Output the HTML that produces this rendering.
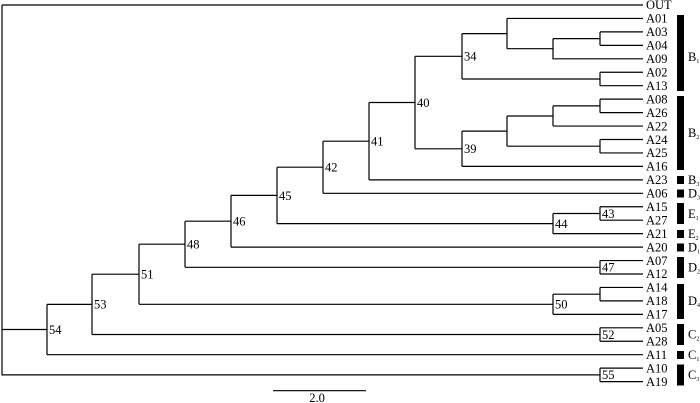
<!DOCTYPE html>
<html><head><meta charset="utf-8"><style>html,body{margin:0;padding:0;background:#fff}svg{display:block}</style></head><body>
<svg width="700" height="403" xmlns="http://www.w3.org/2000/svg" font-family="Liberation Serif, serif" font-size="12.5">
<g stroke="#000" stroke-width="1.2" fill="none">
<path d="M2,5H643 M2,5V374.9H600"/>
<path d="M600,31.9V45.35 M600,31.9H643 M600,45.35H643"/>
<path d="M553,38.6H600 M553,38.6V58.8H643"/>
<path d="M507,18.45V48.7 M507,18.45H643 M507,48.7H553"/>
<path d="M600,72.25V85.7 M600,72.25H643 M600,85.7H643"/>
<path d="M462,33.6V79 M462,33.6H507 M462,79H600"/>
<path d="M600,99.15V112.6 M600,99.15H643 M600,112.6H643"/>
<path d="M553,105.9V126.05 M553,105.9H600 M553,126.05H643"/>
<path d="M600,139.5V152.95 M600,139.5H643 M600,152.95H643"/>
<path d="M507,116V146.2 M507,116H553 M507,146.2H600"/>
<path d="M462,131.1V166.4 M462,131.1H507 M462,166.4H643"/>
<path d="M415,56.3V148.8 M415,56.3H462 M415,148.8H462"/>
<path d="M369,102.5V179.85 M369,102.5H415 M369,179.85H643"/>
<path d="M323,141.2V193.3 M323,141.2H369 M323,193.3H643"/>
<path d="M600,206.75V220.2 M600,206.75H643 M600,220.2H643"/>
<path d="M553,213.5V233.65 M553,213.5H600 M553,233.65H643"/>
<path d="M277,167.2V223.6 M277,167.2H323 M277,223.6H553"/>
<path d="M231,195.4V247.1 M231,195.4H277 M231,247.1H643"/>
<path d="M600,260.55V274 M600,260.55H643 M600,274H643"/>
<path d="M185,221.2V267.3 M185,221.2H231 M185,267.3H600"/>
<path d="M600,287.45V300.9 M600,287.45H643 M600,300.9H643"/>
<path d="M553,294.2V314.35 M553,294.2H600 M553,314.35H643"/>
<path d="M139,244.2V304.3 M139,244.2H185 M139,304.3H553"/>
<path d="M600,327.8V341.25 M600,327.8H643 M600,341.25H643"/>
<path d="M92,274.2V334.5 M92,274.2H139 M92,334.5H600"/>
<path d="M47,304.4V354.7 M47,304.4H92 M47,354.7H643"/>
<path d="M2,329.5H47"/>
<path d="M600,368.15V381.6 M600,368.15H643 M600,381.6H643"/>
<path d="M273,390.7H366"/>
</g>
<g fill="#000">
<text x="464" y="60.5">34</text><text x="464" y="153">39</text>
<text x="417" y="107">40</text><text x="371" y="145.5">41</text>
<text x="325" y="171.5">42</text><text x="602" y="218">43</text>
<text x="555" y="228">44</text><text x="279" y="200">45</text>
<text x="233" y="225.5">46</text><text x="602" y="271.5">47</text>
<text x="187" y="248.5">48</text><text x="555" y="308.5">50</text>
<text x="141" y="278.5">51</text><text x="602" y="339">52</text>
<text x="94" y="308.5">53</text><text x="49" y="334">54</text>
<text x="602" y="379">55</text>
<text x="317" y="402" text-anchor="middle">2.0</text>
</g>
<g fill="#000" font-size="12.5">
<text x="646" y="9">OUT</text>
<text x="646" y="22.5">A01</text><text x="646" y="36">A03</text><text x="646" y="49.5">A04</text>
<text x="646" y="63">A09</text><text x="646" y="76.5">A02</text><text x="646" y="90">A13</text>
<text x="646" y="103.5">A08</text><text x="646" y="117">A26</text><text x="646" y="130.5">A22</text>
<text x="646" y="144">A24</text><text x="646" y="157">A25</text><text x="646" y="170.5">A16</text>
<text x="646" y="184">A23</text><text x="646" y="197.5">A06</text><text x="646" y="211">A15</text>
<text x="646" y="224.5">A27</text><text x="646" y="238">A21</text><text x="646" y="251.5">A20</text>
<text x="646" y="265">A07</text><text x="646" y="278">A12</text><text x="646" y="291.5">A14</text>
<text x="646" y="305">A18</text><text x="646" y="318.5">A17</text><text x="646" y="332">A05</text>
<text x="646" y="345.5">A28</text><text x="646" y="359">A11</text><text x="646" y="372.5">A10</text>
<text x="646" y="386">A19</text>
</g>
<g fill="#000">
<rect x="677" y="15" width="7" height="76"/>
<rect x="677" y="96" width="7" height="74"/>
<rect x="677" y="176" width="7" height="8"/>
<rect x="677" y="189.5" width="7" height="8"/>
<rect x="677" y="203" width="7" height="21"/>
<rect x="677" y="230" width="7" height="8"/>
<rect x="677" y="243.5" width="7" height="8"/>
<rect x="677" y="257" width="7" height="21"/>
<rect x="677" y="284" width="7" height="35"/>
<rect x="677" y="324" width="7" height="21"/>
<rect x="677" y="351" width="7" height="8"/>
<rect x="677" y="364.5" width="7" height="21"/>
</g>
<g fill="#000" font-size="12.5">
<text x="688" y="61">B<tspan font-size="6" dy="2">1</tspan></text>
<text x="688" y="137">B<tspan font-size="6" dy="2">2</tspan></text>
<text x="688" y="184">B<tspan font-size="6" dy="2">3</tspan></text>
<text x="688" y="197.5">D<tspan font-size="6" dy="2">3</tspan></text>
<text x="688" y="218">E<tspan font-size="6" dy="2">1</tspan></text>
<text x="688" y="238">E<tspan font-size="6" dy="2">2</tspan></text>
<text x="688" y="251.5">D<tspan font-size="6" dy="2">1</tspan></text>
<text x="688" y="271.5">D<tspan font-size="6" dy="2">2</tspan></text>
<text x="688" y="305">D<tspan font-size="6" dy="2">4</tspan></text>
<text x="688" y="338.5">C<tspan font-size="6" dy="2">2</tspan></text>
<text x="688" y="359">C<tspan font-size="6" dy="2">1</tspan></text>
<text x="688" y="379">C<tspan font-size="6" dy="2">3</tspan></text>
</g>
</svg>
</body></html>
